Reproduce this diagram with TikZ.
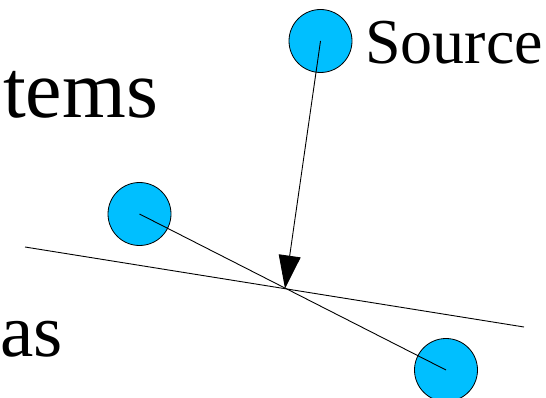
\documentclass[tikz,border=0pt]{standalone}
\usepackage{fontspec}
\setmainfont{Liberation Serif}
\usetikzlibrary{arrows.meta}
\definecolor{ballblue}{RGB}{0,191,255}
\tikzset{
  ball/.style={circle,draw=black,line width=0.8pt,fill=ballblue,minimum size=63pt,inner sep=0pt},
  thinline/.style={line width=0.9pt,black},
  bigtext/.style={inner sep=0pt,font=\fontsize{82}{96}\selectfont},
  astext/.style={inner sep=0pt,font=\fontsize{75}{90}\selectfont},
  labeltext/.style={inner sep=0pt,font=\fontsize{64}{76}\selectfont}
}
\begin{document}
\begin{tikzpicture}[x=1pt,y=-1pt]
\useasboundingbox (0,0) rectangle (546,398);
\node[ball] (src) at (320.5,41) {};
\node[ball] (lb) at (139.5,214) {};
\node[ball] (rb) at (446,370) {};
\node[bigtext,anchor=base west] (tems) at (3,118) {tems};
\node[astext,anchor=base west] (as) at (0,356) {as};
\node[labeltext,anchor=base west] (srclabel) at (365,64) {Source};
\coordinate (hl) at (25,247);
\coordinate (hr) at (524,327);
\coordinate (hit) at (285,288.5);
\draw[thinline] (hl) -- (hr);
\draw[thinline] (lb.center) -- (rb.center);
\draw[thinline,-{Triangle[length=33pt,width=22pt]}] (src.center) -- (hit);
\end{tikzpicture}
\end{document}
